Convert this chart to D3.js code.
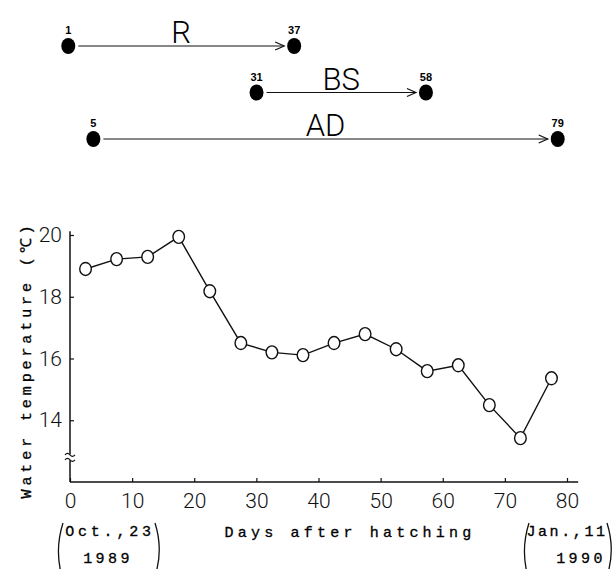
<!DOCTYPE html>
<html>
<head>
<meta charset="utf-8">
<script src="https://cdn.jsdelivr.net/npm/d3@7"></script>
<style>
  body { margin: 0; background: #fff; }
  svg { display: block; }
  .num { font-family: "Roboto", "Liberation Sans", sans-serif; font-weight: 300; }
  .mono { font-family: "Liberation Mono", "DejaVu Sans Mono", monospace; }
</style>
</head>
<body>
<div id="chart"></div>
<script>
// water temperature, 5-day means
var days = [2.5, 7.5, 12.5, 17.5, 22.5, 27.5, 32.5, 37.5, 42.5, 47.5, 52.5, 57.5, 62.5, 67.5, 72.5, 77.5];
var temps = [18.9, 19.22, 19.29, 19.94, 18.18, 16.5, 16.2, 16.11, 16.5, 16.79, 16.3, 15.59, 15.78, 14.49, 13.42, 15.36];
var xTicks = [0, 10, 20, 30, 40, 50, 60, 70, 80];
var yTicks = [14, 16, 18, 20];
// stages on top
var stages = ['R', 'BS', 'AD'];
var stageStart = [1, 31, 5];
var stageEnd = [37, 58, 79];

var W = 613, H = 569;
var svg = d3.select('#chart').append('svg')
  .attr('width', W)
  .attr('height', H);

var x = d3.scaleLinear().domain([0, 80]).range([70, 567]);
var y = d3.scaleLinear().domain([12, 20]).range([482, 235]);
var xTop = d3.scaleLinear().domain([0, 80]).range([62, 564]);
var yTop = d3.scalePoint().domain(stages).range([46, 139]);

// ---- top diagram ----
var stg = svg.append('g');
stages.forEach(function(s, i){
  var x0 = xTop(stageStart[i]), x1 = xTop(stageEnd[i]), yy = yTop(s);
  stg.append('line')
    .attr('x1', x0 + 10).attr('x2', x1 - 10)
    .attr('y1', yy).attr('y2', yy)
    .attr('stroke', '#111').attr('stroke-width', 1.2);
  stg.append('path')
    .attr('d', 'M' + (x1 - 19) + ',' + (yy - 4) + 'L' + (x1 - 10) + ',' + yy + 'L' + (x1 - 19) + ',' + (yy + 4))
    .attr('fill', 'none').attr('stroke', '#111').attr('stroke-width', 1.2);
  [stageStart[i], stageEnd[i]].forEach(function(d){
    stg.append('ellipse')
      .attr('cx', xTop(d)).attr('cy', yy)
      .attr('rx', 7).attr('ry', 8)
      .attr('fill', '#000');
    stg.append('text')
      .attr('x', xTop(d)).attr('y', yy - 12)
      .attr('text-anchor', 'middle')
      .attr('font-family', 'Liberation Sans, Arial, sans-serif')
      .attr('font-weight', 'bold')
      .attr('font-size', 11)
      .text(d);
  });
  stg.append('text')
    .attr('class', 'num')
    .attr('x', (x0 + x1) / 2).attr('y', yy - 3)
    .attr('text-anchor', 'middle')
    .attr('font-size', 31)
    .text(s);
});

// ---- axes ----
var gx = svg.append('g')
  .attr('transform', 'translate(0,' + y(12) + ')')
  .call(d3.axisBottom(x).tickValues(xTicks).tickSize(-4).tickPadding(11).tickFormat(d3.format('d')));
var gy = svg.append('g')
  .attr('transform', 'translate(' + x(0) + ',0)')
  .call(d3.axisLeft(y).tickValues(yTicks).tickSize(-4).tickPadding(8).tickFormat(d3.format('d')));
[gx, gy].forEach(function(g){
  g.select('.domain').remove();
  g.selectAll('line').attr('stroke', '#111').attr('stroke-width', 1.2);
  g.selectAll('text').attr('class', 'num').attr('font-size', 21).attr('fill', '#111');
});
svg.append('line')
  .attr('x1', x(0)).attr('x2', x(81.8))
  .attr('y1', y(12)).attr('y2', y(12))
  .attr('stroke', '#111').attr('stroke-width', 1.5);
svg.append('line')
  .attr('x1', x(0)).attr('x2', x(0))
  .attr('y1', y(12)).attr('y2', y(20.12))
  .attr('stroke', '#111').attr('stroke-width', 1.5);

// axis break
var by = y(12.8);
svg.append('rect').attr('x', x(0) - 4).attr('y', by - 3).attr('width', 8).attr('height', 6).attr('fill', '#fff');
[-2.5, 2.5].forEach(function(o){
  svg.append('path')
    .attr('d', 'M' + (x(0) - 5) + ',' + (by + o) + 'q2.5,-3 5,0t5,0')
    .attr('fill', 'none').attr('stroke', '#111').attr('stroke-width', 1.2);
});

// ---- series ----
var pts = days.map(function(d, i){ return [d, temps[i]]; });
svg.append('path')
  .datum(pts)
  .attr('fill', 'none')
  .attr('stroke', '#111')
  .attr('stroke-width', 1.4)
  .attr('d', d3.line().x(function(d){ return x(d[0]); }).y(function(d){ return y(d[1]); }));
svg.selectAll('.pt').data(pts).enter().append('ellipse')
  .attr('class', 'pt')
  .attr('cx', function(d){ return x(d[0]); })
  .attr('cy', function(d){ return y(d[1]); })
  .attr('rx', 5.8).attr('ry', 6.5)
  .attr('fill', '#fff')
  .attr('stroke', '#111')
  .attr('stroke-width', 1.4);

// ---- labels ----
svg.append('text')
  .attr('class', 'mono')
  .attr('transform', 'translate(31,360) rotate(-90)')
  .attr('text-anchor', 'middle')
  .attr('font-size', 15)
  .attr('letter-spacing', 3.9)
  .attr('fill', '#000')
  .attr('stroke', '#000').attr('stroke-width', 0.3)
  .text('Water temperature (\u2103)');
svg.append('text')
  .attr('class', 'mono')
  .attr('x', 350).attr('y', 537)
  .attr('text-anchor', 'middle')
  .attr('font-size', 15)
  .attr('letter-spacing', 4.2)
  .attr('fill', '#000')
  .attr('stroke', '#000').attr('stroke-width', 0.3)
  .text('Days after hatching');

// dates under the axis ends: [line1, line2, text x, paren left, paren right]
var dateText = [['Oct.,23', '1989', 110, 58, 158], ['Jan.,11', '1990', 567, 524, 610]];
dateText.forEach(function(d, i){
  var cx = d[2];
  var ls = i == 0 ? 3.8 : 2.6;
  svg.append('text').attr('class', 'mono')
    .attr('x', cx).attr('y', 536)
    .attr('text-anchor', 'middle')
    .attr('font-size', 15).attr('letter-spacing', ls).attr('fill', '#000')
    .attr('stroke', '#000').attr('stroke-width', 0.3)
    .text(d[0]);
  svg.append('text').attr('class', 'mono')
    .attr('x', i == 0 ? cx - 2 : cx + 14).attr('y', 563)
    .attr('text-anchor', 'middle')
    .attr('font-size', 15).attr('letter-spacing', 3.4).attr('fill', '#000')
    .attr('stroke', '#000').attr('stroke-width', 0.3)
    .text(d[1]);
  var l = d[3], r = d[4];
  svg.append('path')
    .attr('d', 'M' + (l + 5) + ',523Q' + (l - 3) + ',548 ' + (l + 3) + ',573')
    .attr('fill', 'none').attr('stroke', '#111').attr('stroke-width', 1.3);
  svg.append('path')
    .attr('d', 'M' + (r - 3) + ',523Q' + (r + 5) + ',548 ' + (r - 2) + ',573')
    .attr('fill', 'none').attr('stroke', '#111').attr('stroke-width', 1.3);
});
</script>
</body>
</html>
